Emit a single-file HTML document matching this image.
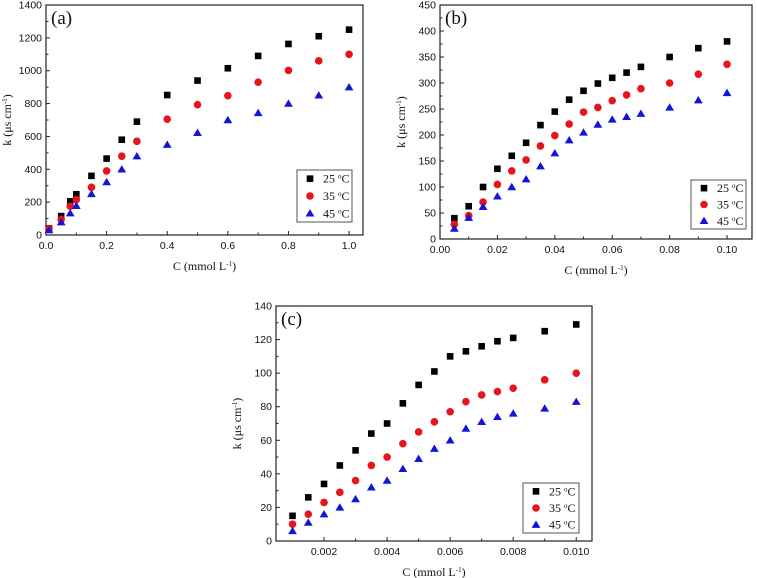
<!DOCTYPE html>
<html><head><meta charset="utf-8"><style>
body{margin:0;background:#fff;width:757px;height:578px;overflow:hidden}
svg{display:block}
.tk{font-family:"Liberation Sans",sans-serif;font-size:10.5px;fill:#111}
.tt{font-family:"Liberation Serif",serif;font-size:12px;fill:#111}
.pl{font-family:"Liberation Serif",serif;font-size:19px;fill:#111}
.lg{font-family:"Liberation Serif",serif;font-size:12px;fill:#111}
</style></head><body>
<svg id="fig" width="757" height="578" viewBox="0 0 757 578"></svg>
<script>
const aX=[0.01,0.05,0.08,0.1,0.15,0.2,0.25,0.3,0.4,0.5,0.6,0.7,0.8,0.9,1.0];
const a25=[40,115,205,248,360,465,580,690,852,940,1015,1090,1163,1210,1250];
const a35=[38,95,175,215,290,390,480,570,705,793,848,930,1002,1060,1100];
const a45=[30,78,133,178,250,322,400,480,550,622,700,743,800,850,900];
const bX=[0.005,0.01,0.015,0.02,0.025,0.03,0.035,0.04,0.045,0.05,0.055,0.06,0.065,0.07,0.08,0.09,0.1];
const b25=[40,63,100,135,160,185,219,245,268,285,299,310,320,331,350,367,380];
const b35=[28,45,71,105,131,152,179,199,221,244,253,266,277,289,300,317,336];
const b45=[20,41,62,82,100,115,140,165,190,205,220,230,235,241,253,267,281];
const cX=[0.001,0.0015,0.002,0.0025,0.003,0.0035,0.004,0.0045,0.005,0.0055,0.006,0.0065,0.007,0.0075,0.008,0.009,0.01];
const c25=[15,26,34,45,54,64,70,82,93,101,110,113,116,119,121,125,129];
const c35=[10,16,23,29,36,45,50,58,65,71,77,83,87,89,91,96,100];
const c45=[6,11,16,20,25,32,36,43,49,55,60,67,71,74,76,79,83];
const aXT=[0,0.2,0.4,0.6,0.8,1.0], aXL=["0.0","0.2","0.4","0.6","0.8","1.0"];
const aYT=[0,200,400,600,800,1000,1200,1400];
const bXT=[0,0.02,0.04,0.06,0.08,0.1], bXL=["0.00","0.02","0.04","0.06","0.08","0.10"];
const bYT=[0,50,100,150,200,250,300,350,400,450];
const cXT=[0.002,0.004,0.006,0.008,0.01], cXL=["0.002","0.004","0.006","0.008","0.010"];
const cYT=[0,20,40,60,80,100,120,140];
const legendLabels=["25","35","45"];

const NS="http://www.w3.org/2000/svg";
const svg=document.getElementById('fig');
function mk(t,a,p){const e=document.createElementNS(NS,t);for(const k in a)e.setAttribute(k,a[k]);(p||svg).appendChild(e);return e;}
function marker(g,kind,x,y){
  if(kind==0)return mk('rect',{x:x-3.3,y:y-3.3,width:6.6,height:6.6,fill:'#000'},g);
  if(kind==1)return mk('circle',{cx:x,cy:y,r:3.8,fill:'#e8141c'},g);
  return mk('polygon',{points:`${x},${y-4.2} ${x+4.4},${y+3.2} ${x-4.4},${y+3.2}`,fill:'#1414d8'},g);
}
function panel(o){
  const g=mk('g',{});
  
  
  const sx=v=>o.L+(v-o.x0)/(o.x1-o.x0)*(o.R-o.L);
  const sy=v=>o.B-(v-o.y0)/(o.y1-o.y0)*(o.B-o.T);
  const fr=mk('rect',{x:o.L,y:o.T,width:o.R-o.L,height:o.B-o.T,fill:'none',stroke:'#222','stroke-width':1.2},g);
  
  o.xt.forEach((v,i)=>{const x=sx(v);
    mk('line',{x1:x,y1:o.B,x2:x,y2:o.B-4,stroke:'#222'},g);
    const t=mk('text',{x:x,y:o.B+14,'text-anchor':'middle',class:'tk'},g);t.textContent=o.xl[i];
    
    if(i<o.xt.length-1){const m=sx((v+o.xt[i+1])/2);mk('line',{x1:m,y1:o.B,x2:m,y2:o.B-2.5,stroke:'#222'},g);}
  });
  o.yt.forEach((v,i)=>{const y=sy(v);
    mk('line',{x1:o.L,y1:y,x2:o.L+4,y2:y,stroke:'#222'},g);
    const t=mk('text',{x:o.L-4,y:y+3.5,'text-anchor':'end',class:'tk'},g);t.textContent=v;
    
    if(i<o.yt.length-1){const m=sy((v+o.yt[i+1])/2);mk('line',{x1:o.L,y1:m,x2:o.L+2.5,y2:m,stroke:'#222'},g);}
  });
  const xt=mk('text',{x:(o.L+o.R)/2,y:o.B+35,'text-anchor':'middle',class:'tt'},g);
  xt.innerHTML='C (mmol L<tspan dy="-4" font-size="7">-1</tspan><tspan dy="4">)</tspan>';
  
  const yc=(o.T+o.B)/2, yx=o.L-35;
  const yt=mk('text',{x:yx,y:yc,'text-anchor':'middle',class:'tt',transform:`rotate(-90 ${yx} ${yc})`},g);
  yt.innerHTML='k (μs cm<tspan dy="-4" font-size="7">-1</tspan><tspan dy="4">)</tspan>';
  
  const pl=mk('text',{x:o.L+5,y:o.T+19,class:'pl'},g);pl.textContent='('+o.id+')';
  
  o.series.forEach((s,k)=>{const sg=mk('g',{},g);
    
    o.xs.forEach((xv,i)=>{const m=marker(sg,k,sx(xv),sy(s[i]));
      });
  });
  const lg=mk('g',{},g);
  mk('rect',{x:o.lg[0],y:o.lg[1],width:o.lg[2],height:o.lg[3],fill:'#fff',stroke:'#555'},lg);
  const rh=o.lg[3]/3;
  legendLabels.forEach((l,k)=>{const cy=o.lg[1]+rh*(k+0.5);
    const e=mk('g',{},lg);
    marker(e,k,o.lg[0]+13,cy);
    const t=mk('text',{x:o.lg[0]+26,y:cy+4,class:'lg'},e);
    t.innerHTML=l+' <tspan dy="-4" font-size="7">o</tspan><tspan dy="4">C</tspan>';});
}
panel({id:'a',L:46,R:363,T:5,B:235,x0:0,x1:1.046,y0:0,y1:1400,xt:aXT,xl:aXL,yt:aYT,xs:aX,series:[a25,a35,a45],lg:[297,170,55,52]});
panel({id:'b',L:440,R:752,T:5,B:239,x0:0,x1:0.1087,y0:0,y1:450,xt:bXT,xl:bXL,yt:bYT,xs:bX,series:[b25,b35,b45],lg:[691,180,55,49]});
panel({id:'c',L:276,R:592,T:306,B:541,x0:0.000476,x1:0.0105,y0:0,y1:140,xt:cXT,xl:cXL,yt:cYT,xs:cX,series:[c25,c35,c45],lg:[523,483,56,50]});
</script>
</body></html>
